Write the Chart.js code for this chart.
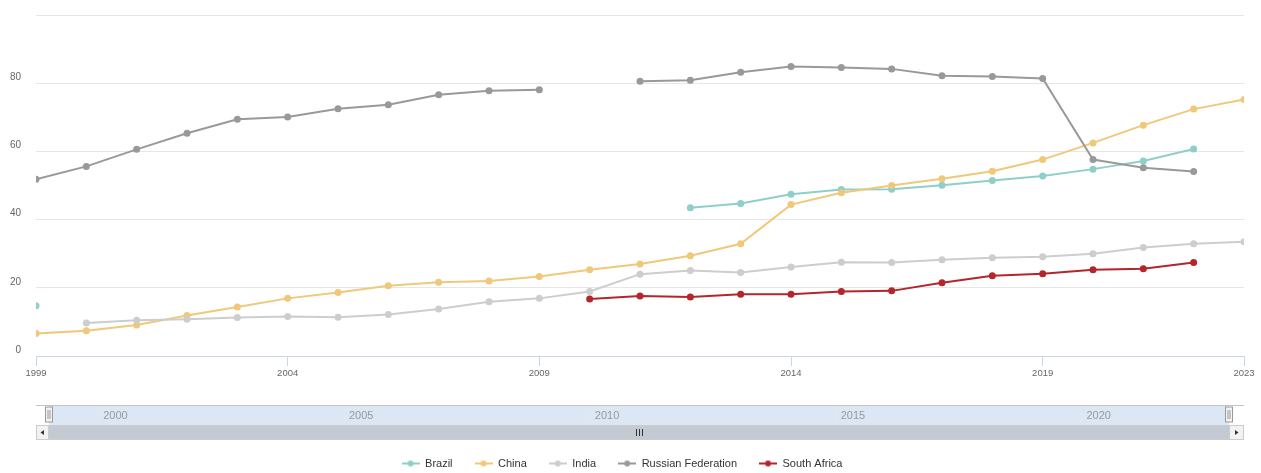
<!DOCTYPE html>
<html>
<head>
<meta charset="utf-8">
<title>BRICS</title>
<script src="https://cdn.jsdelivr.net/npm/chart.js@4.4.1/dist/chart.umd.min.js"></script>
<style>
  body { margin: 0; background: #fff; overflow: hidden; }
  #wrap { position: relative; width: 1261px; height: 473px; }
  #mainChart { position: absolute; left: 0; top: 0; }
  #navChart { position: absolute; left: 0; top: 395px; }
</style>
</head>
<body>
<div id="wrap">
  <canvas id="mainChart" width="1261" height="473"></canvas>
  <canvas id="navChart" width="1261" height="50"></canvas>
</div>
<script>
// Series data, one value per year (null = no data)
const years = [1999, 2000, 2001, 2002, 2003, 2004, 2005, 2006, 2007, 2008, 2009, 2010,
               2011, 2012, 2013, 2014, 2015, 2016, 2017, 2018, 2019, 2020, 2021, 2022, 2023];

const brazil = [14.7, null, null, null, null, null, null, null, null, null, null, null,
                null, 43.5, 44.7, 47.4, 48.8, 48.9, 50.1, 51.5, 52.8, 54.8, 57.2, 60.7, null];
const china = [6.6, 7.4, 9.1, 11.9, 14.4, 16.9, 18.6, 20.6, 21.6, 22.0, 23.3, 25.3,
               27.0, 29.4, 32.9, 44.4, 47.9, 50.0, 52.0, 54.2, 57.6, 62.5, 67.7, 72.4, 75.2];
const india = [null, 9.7, 10.5, 10.8, 11.3, 11.6, 11.4, 12.2, 13.8, 15.9, 16.9, 18.9,
               24.0, 25.1, 24.5, 26.1, 27.5, 27.4, 28.2, 28.8, 29.1, 30.0, 31.8, 32.9, 33.5];
const russia = [51.8, 55.6, 60.6, 65.3, 69.4, 70.1, 72.5, 73.7, 76.6, 77.8, 78.1, null,
                80.6, 80.9, 83.2, 84.9, 84.6, 84.2, 82.2, 82.0, 81.4, 57.6, 55.2, 54.1, null];
const southAfrica = [null, null, null, null, null, null, null, null, null, null, null, 16.7,
                     17.6, 17.3, 18.1, 18.1, 18.9, 19.1, 21.5, 23.5, 24.1, 25.3, 25.6, 27.4, null];

const seriesNames = ['Brazil', 'China', 'India', 'Russian Federation', 'South Africa'];
const seriesValues = [brazil, china, india, russia, southAfrica];
const seriesColors = ['#8fcfc9', '#f0c87a', '#cdcdcd', '#999999', '#b3262b'];

const xTicks = [1999, 2004, 2009, 2014, 2019, 2023];
const yTicks = [0, 20, 40, 60, 80, 100];
const navTicks = [2000, 2005, 2010, 2015, 2020];

Chart.defaults.font.family = "'Liberation Sans', Arial, sans-serif";
Chart.defaults.animation = false;

// legend marker: short line with a dot in the middle
function legendMarker(color) {
    const c = document.createElement('canvas');
    c.width = 18; c.height = 8;
    const g = c.getContext('2d');
    g.strokeStyle = color;
    g.lineWidth = 2;
    g.beginPath(); g.moveTo(0, 4); g.lineTo(18, 4); g.stroke();
    g.fillStyle = color;
    g.beginPath(); g.arc(9, 4, 3, 0, Math.PI * 2); g.fill();
    return c;
}

const datasets = seriesNames.map((name, i) => ({
    label: name,
    data: years.map((yr, j) => ({ x: yr, y: seriesValues[i][j] })),
    borderColor: seriesColors[i],
    backgroundColor: seriesColors[i],
    borderWidth: 2,
    pointRadius: 3.5,
    pointBorderWidth: 0,
    pointStyle: 'circle',
    legendStyle: legendMarker(seriesColors[i]),
    spanGaps: false,
    order: seriesNames.length - i
}));

const mainChart = new Chart(document.getElementById('mainChart'), {
    type: 'line',
    data: { datasets },
    options: {
        responsive: false,
        layout: { padding: { top: 15, right: 17, left: 0, bottom: -6 } },
        scales: {
            x: {
                type: 'linear',
                min: 1999,
                max: 2023,
                afterBuildTicks: s => { s.ticks = xTicks.map(v => ({ value: v })); },
                afterFit: s => { s.height = 80; },
                border: { color: '#ccd6eb' },
                grid: { drawOnChartArea: false, color: '#ccd6eb', tickLength: 10 },
                ticks: { color: '#666', font: { size: 9.5 }, padding: 2, maxRotation: 0,
                         callback: v => String(v) }
            },
            y: {
                min: 0,
                max: 100,
                afterBuildTicks: s => { s.ticks = yTicks.map(v => ({ value: v })); },
                afterFit: s => { s.width = 36; s.paddingTop = 0; },
                border: { display: false },
                grid: { color: '#e6e6e6', drawTicks: false },
                ticks: { color: '#666', font: { size: 10 }, padding: 15, labelOffset: -6,
                         callback: v => (v === 100 ? '' : String(v)) }
            }
        },
        plugins: {
            tooltip: { enabled: false },
            legend: {
                position: 'bottom',
                labels: {
                    color: '#333',
                    font: { size: 11 },
                    padding: 22,
                    usePointStyle: true,
                    pointStyleWidth: 18,
                    sort: (a, b) => a.datasetIndex - b.datasetIndex,
                    generateLabels: chart => chart.data.datasets.map((d, i) => ({
                        text: d.label,
                        fontColor: '#333',
                        pointStyle: d.legendStyle,
                        strokeStyle: d.borderColor,
                        fillStyle: d.borderColor,
                        lineWidth: 0,
                        hidden: false,
                        datasetIndex: i
                    }))
                }
            }
        }
    }
});

// navigator band, handles and scrollbar below the plot
const navChrome = {
    id: 'navChrome',
    beforeDraw(chart) {
        const { ctx, chartArea: a } = chart;
        ctx.save();
        ctx.fillStyle = '#dbe7f5';
        ctx.fillRect(a.left, a.top, a.right - a.left, a.bottom - a.top);
        ctx.restore();
    },
    afterDraw(chart) {
        const { ctx, chartArea: a } = chart;
        const x = chart.scales.x;
        const outerL = mainChart.chartArea.left;
        const outerR = mainChart.chartArea.right;
        ctx.save();

        // year labels inside the band
        ctx.fillStyle = '#999';
        ctx.font = "11px 'Liberation Sans', Arial, sans-serif";
        ctx.textBaseline = 'middle';
        navTicks.forEach(v => ctx.fillText(String(v), x.getPixelForValue(v) + 5, (a.top + a.bottom) / 2 + 1));

        // outline
        ctx.strokeStyle = '#c4c4c4';
        ctx.lineWidth = 1;
        ctx.beginPath();
        ctx.moveTo(outerL, a.top + 0.5); ctx.lineTo(outerR, a.top + 0.5);
        ctx.stroke();

        // scrollbar
        const sTop = a.bottom, sH = 15;
        ctx.fillStyle = '#c3cad3';
        ctx.fillRect(a.left, sTop, a.right - a.left, sH);
        ctx.strokeStyle = '#cccccc';
        ctx.strokeRect(outerL + 0.5, sTop + 0.5, outerR - outerL - 1, sH - 1);
        [[outerL, a.left, -1], [a.right, outerR, 1]].forEach(([l, r, dir]) => {
            ctx.fillStyle = '#f2f2f2';
            ctx.fillRect(l, sTop, r - l, sH);
            ctx.strokeStyle = '#cccccc';
            ctx.strokeRect(l + 0.5, sTop + 0.5, r - l - 1, sH - 1);
            const cx = (l + r) / 2, cy = sTop + sH / 2;
            ctx.fillStyle = '#333';
            ctx.beginPath();
            ctx.moveTo(cx + 2 * dir, cy);
            ctx.lineTo(cx - 1.5 * dir, cy - 2.5);
            ctx.lineTo(cx - 1.5 * dir, cy + 2.5);
            ctx.closePath();
            ctx.fill();
        });
        // grip
        const gx = Math.round((a.left + a.right) / 2);
        ctx.strokeStyle = '#333';
        ctx.beginPath();
        [-3, 0, 3].forEach(dx => {
            ctx.moveTo(gx + dx + 0.5, sTop + 4);
            ctx.lineTo(gx + dx + 0.5, sTop + sH - 4);
        });
        ctx.stroke();

        // handles at both ends of the range
        [a.left, a.right].forEach(hx => {
            const l = Math.round(hx) - 3.5, t = a.top + 2;
            ctx.fillStyle = '#f2f2f2';
            ctx.strokeStyle = '#999';
            ctx.fillRect(l, t, 7, 15);
            ctx.strokeRect(l, t, 7, 15);
            ctx.beginPath();
            ctx.moveTo(l + 2.5, t + 3); ctx.lineTo(l + 2.5, t + 12);
            ctx.moveTo(l + 4.5, t + 3); ctx.lineTo(l + 4.5, t + 12);
            ctx.stroke();
        });
        ctx.restore();
    }
};

new Chart(document.getElementById('navChart'), {
    type: 'line',
    data: { datasets: [] },
    options: {
        responsive: false,
        layout: { padding: { top: 10, left: 49, right: 32, bottom: 20 } },
        scales: {
            x: {
                type: 'linear',
                min: 1999,
                max: 2023,
                afterBuildTicks: s => { s.ticks = navTicks.map(v => ({ value: v })); },
                border: { display: false },
                grid: { color: '#e2e8ef', drawTicks: false },
                ticks: { display: false }
            },
            y: { display: false, min: 0, max: 1 }
        },
        plugins: { legend: { display: false }, tooltip: { enabled: false } }
    },
    plugins: [navChrome]
});
</script>
</body>
</html>
